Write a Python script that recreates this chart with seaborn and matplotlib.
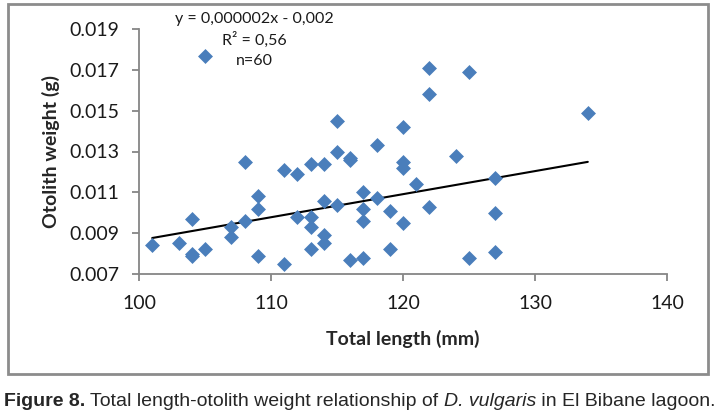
import numpy as np
import pandas as pd
import seaborn as sns
import matplotlib
matplotlib.use('Agg')
import matplotlib.pyplot as plt
from matplotlib.patches import Rectangle

# total length (mm) and otolith weight (g)
total_length = [101, 103, 104, 104, 104, 105, 105, 107, 107, 108,
                108, 109, 109, 109, 111, 111, 112, 112, 113, 113,
                113, 113, 114, 114, 114, 114, 115, 115, 115, 116,
                116, 116, 117, 117, 117, 117, 118, 118, 119, 119,
                120, 120, 120, 120, 121, 122, 122, 122, 124, 125,
                125, 127, 127, 127, 134]
otolith_weight = [0.0084, 0.0085, 0.0097, 0.0080, 0.0079, 0.0082, 0.0177, 0.0093, 0.0088, 0.0096,
                  0.0125, 0.0108, 0.0102, 0.0079, 0.0121, 0.0075, 0.0119, 0.0098, 0.0124, 0.0098,
                  0.0093, 0.0082, 0.0124, 0.0106, 0.0089, 0.0085, 0.0145, 0.0130, 0.0104, 0.0127,
                  0.0126, 0.0077, 0.0110, 0.0102, 0.0096, 0.0078, 0.0133, 0.0107, 0.0101, 0.0082,
                  0.0142, 0.0125, 0.0122, 0.0095, 0.0114, 0.0171, 0.0158, 0.0103, 0.0128, 0.0169,
                  0.0078, 0.0117, 0.0100, 0.0081, 0.0149]

# trend line as drawn in the figure (slope / intercept)
trend_slope = 0.000113
trend_intercept = -0.00265

x_ticks = [100, 110, 120, 130, 140]
y_ticks = [0.007, 0.009, 0.011, 0.013, 0.015, 0.017, 0.019]
equation_lines = ['y = 0,000002x - 0,002', 'R² = 0,56', 'n=60']

df = pd.DataFrame({'length': total_length, 'weight': otolith_weight})
trend_x = np.array([min(total_length), max(total_length)])
trend_df = pd.DataFrame({'length': trend_x, 'weight': trend_slope * trend_x + trend_intercept})

sns.set_style('white')
plt.rcParams['font.family'] = ['Lato', 'DejaVu Sans']

fig = plt.figure(figsize=(7.22, 4.18), dpi=100)
ax = fig.add_axes([139 / 722, 1 - 274 / 418, 528 / 722, 245 / 418])

sns.scatterplot(x='length', y='weight', data=df, marker='D', s=58, color='#4a7ebb',
                linewidth=0, ax=ax, zorder=3)
sns.lineplot(x='length', y='weight', data=trend_df, color='black', lw=1.5, ax=ax, zorder=2)

ax.set_xlim(100, 140)
ax.set_ylim(0.007, 0.019)
ax.set_xticks(x_ticks)
ax.set_yticks(y_ticks)
ax.set_yticklabels(['{:.3f}'.format(v) for v in y_ticks])

for side in ['top', 'right']:
    ax.spines[side].set_visible(False)
for side in ['left', 'bottom']:
    ax.spines[side].set_color('#868686')
    ax.spines[side].set_linewidth(1.3)

ax.tick_params(axis='both', which='major', direction='out', length=5, width=1.3,
               color='#868686', labelsize=14, labelcolor='#1a1a1a',
               bottom=True, left=True)
ax.tick_params(axis='x', pad=10)
ax.tick_params(axis='y', pad=9)

ax.set_xlabel('Total length (mm)', fontsize=14, fontweight='bold', labelpad=13)
ax.set_ylabel('Otolith weight (g)', fontsize=14, fontweight='bold', labelpad=7)

for i, line in enumerate(equation_lines):
    fig.text(254 / 722, 1 - (19 + 21 * i) / 418, line, ha='center', va='center',
             fontsize=11.5, color='#1a1a1a')

fig.patches.append(Rectangle((8 / 722, 1 - 374 / 418), 700 / 722, 370 / 418,
                             transform=fig.transFigure, fill=False,
                             edgecolor='#8c8c8c', lw=2))

# caption with mixed bold / italic pieces
pieces = [('Figure 8.', 'bold', 'normal'),
          (' Total length-otolith weight relationship of ', 'normal', 'normal'),
          ('D. vulgaris', 'normal', 'italic'),
          (' in El Bibane lagoon.', 'normal', 'normal')]
fig.canvas.draw()
renderer = fig.canvas.get_renderer()
x_pos = 4
for txt, weight, style in pieces:
    t = fig.text(x_pos / 722, 1 - 402 / 418, txt, ha='left', va='center',
                 fontsize=14, fontweight=weight, fontstyle=style,
                 family=['Liberation Sans', 'DejaVu Sans'])
    bb = t.get_window_extent(renderer=renderer)
    x_pos += bb.width

fig.savefig('out.png', dpi=100)
